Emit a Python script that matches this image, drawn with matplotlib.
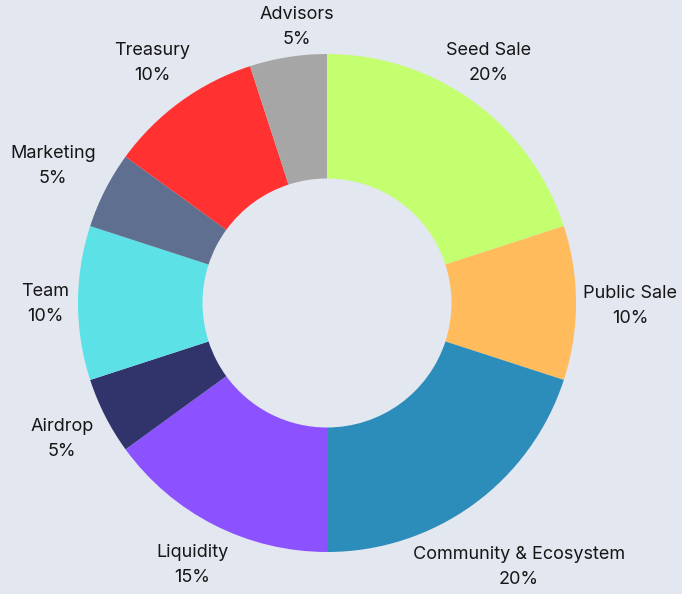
import matplotlib
matplotlib.use("Agg")
import matplotlib.pyplot as plt

categories = ["Seed Sale", "Public Sale", "Community & Ecosystem", "Liquidity",
              "Airdrop", "Team", "Marketing", "Treasury", "Advisors"]
values = [20, 10, 20, 15, 5, 10, 5, 10, 5]
colors = ["#c4ff70", "#ffbb5c", "#2c8cba", "#8c52ff", "#31336b",
          "#5ce1e6", "#5e6f8f", "#ff3131", "#a6a6a6"]

# label anchor positions (pixels from top-left), layout only
label_pos = [(489, 63), (630, 306), (519, 567), (192, 565), (62, 439),
             (45, 304), (53, 166), (152, 63), (297, 27)]

W, H = 682, 594
fig = plt.figure(figsize=(W / 100, H / 100), dpi=100)
bg = "#e3e7f0"
fig.patch.set_facecolor(bg)
ax = fig.add_axes([0, 0, 1, 1])
ax.set_facecolor(bg)

cx, cy, R = 327, H - 303, 249
ax.pie(values, colors=colors, startangle=90, counterclock=False,
       center=(cx, cy), radius=R,
       wedgeprops=dict(width=R * 0.5, linewidth=0))
ax.set_xlim(0, W)
ax.set_ylim(0, H)
ax.set_aspect("equal")
ax.axis("off")

for name, v, (x, y) in zip(categories, values, label_pos):
    ax.text(x, H - y, f"{name}\n{v}%", ha="center", va="center",
            fontsize=13, family=["Inter", "DejaVu Sans"], color="#161616",
            linespacing=1.55)

fig.savefig("out.png", dpi=100, facecolor=bg)
